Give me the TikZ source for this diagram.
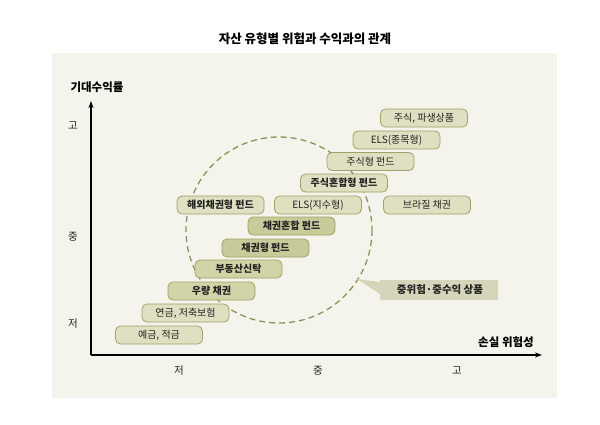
\documentclass[tikz,border=0pt]{standalone}
\usepackage{fontspec}
\setmainfont{Noto Sans CJK KR}
\usetikzlibrary{arrows.meta}
\definecolor{bgc}{HTML}{F4F4EC}
\definecolor{boxlight}{HTML}{DFE0C2}
\definecolor{boxmid}{HTML}{D2D4A8}
\definecolor{boxdark}{HTML}{C8CA9A}
\definecolor{boxline}{HTML}{9DA466}
\definecolor{dashc}{HTML}{8A945A}
\definecolor{callc}{HTML}{D4D5BA}
\definecolor{txt}{HTML}{222222}
\tikzset{
  asset/.style={draw=boxline, line width=0.8pt, rounded corners=5pt, fill=boxlight,
    minimum width=87pt, minimum height=18pt, inner sep=0pt, font=\fontsize{10}{11}\selectfont, text=txt},
  assetb/.style={asset, font=\fontsize{10}{11}\selectfont\bfseries},
  lbl/.style={font=\fontsize{10.5}{11}\selectfont, text=txt, inner sep=0pt},
  axlbl/.style={font=\fontsize{11.5}{12}\selectfont\bfseries, text=black, inner sep=0pt},
  axisline/.style={line width=1.5pt, draw=black, -{Stealth[length=7pt,width=5pt]}}
}
\begin{document}
\begin{tikzpicture}[x=1pt,y=-1pt]
\useasboundingbox (0,0) rectangle (600,424);
\fill[white] (0,0) rectangle (600,424);
\fill[bgc] (52,53) rectangle (557,398);
\node[font=\fontsize{12.5}{13}\selectfont\bfseries, text=black] (title) at (305,39) {자산 유형별 위험과 수익과의 관계};
% dashed circle
\draw[dashc, line width=1.3pt, dash pattern=on 6pt off 4pt] (279,230) circle[radius=93];
% callout
\fill[callc] (357,279) -- (380,282) -- (380,280) -- (498,280) -- (498,300) -- (380,300) -- (380,294) -- cycle;
\node[font=\fontsize{10.5}{11}\selectfont\bfseries, text=txt] (call) at (440,290) {중위험·중수익 상품};
% axes
\coordinate (o) at (91,355);
\coordinate (ytip) at (91,101);
\coordinate (xtip) at (542,355);
\draw[axisline] (o) -- (ytip);
\draw[axisline] (o) -- (xtip);
\node[axlbl] (ylab) at (97,87) {기대수익률};
\node[axlbl] (xlab) at (506,342) {손실 위험성};
\node[lbl] (yh) at (73,126) {고};
\node[lbl] (ym) at (73,237) {중};
\node[lbl] (yl) at (73,324) {저};
\node[lbl] (xl) at (179,371) {저};
\node[lbl] (xm) at (318,371) {중};
\node[lbl] (xh) at (457,371) {고};
% assets
\node[asset] (a1) at (424,118) {주식, 파생상품};
\node[asset] (a2) at (396.5,140) {ELS(종목형)};
\node[asset] (a3) at (370.5,161.5) {주식형 펀드};
\node[assetb] (a4) at (344,183) {주식혼합형 펀드};
\node[asset] (a5) at (318,205) {ELS(지수형)};
\node[assetb] (a6) at (220.5,205) {해외채권형 펀드};
\node[asset] (a7) at (427,205) {브라질 채권};
\node[assetb, fill=boxdark] (a8) at (291.5,226) {채권혼합 펀드};
\node[assetb, fill=boxdark] (a9) at (265.5,248) {채권형 펀드};
\node[assetb, fill=boxmid] (a10) at (238.5,269) {부동산신탁};
\node[assetb, fill=boxmid] (a11) at (211.5,291) {우량 채권};
\node[asset] (a12) at (185.5,313) {연금, 저축보험};
\node[asset] (a13) at (159,335) {예금, 적금};
\end{tikzpicture}
\end{document}
